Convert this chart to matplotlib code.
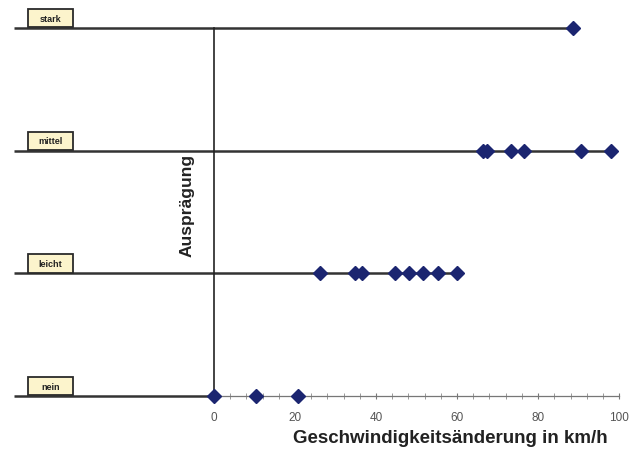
import matplotlib
matplotlib.use("Agg")
import matplotlib.pyplot as plt
from matplotlib.patches import Rectangle
from matplotlib.ticker import FixedLocator

plt.rcParams['font.family'] = ['Liberation Sans', 'DejaVu Sans']

# Auspraegung levels (y) and speed changes in km/h (x)
levels = ["nein", "leicht", "mittel", "stark"]
nein = [0, 10.5, 20.8]
leicht = [26.2, 34.8, 36.5, 44.7, 48.2, 51.7, 55.4, 60.1]
mittel = [66.3, 67.5, 73.2, 76.5, 90.7, 98.0]
stark = [88.6]
series = [nein, leicht, mittel, stark]

xticks = [0, 20, 40, 60, 80, 100]

line_col = '#333333'
mark_col = '#1b2570'

fig = plt.figure(figsize=(6.39, 4.52), dpi=100)
ax = fig.add_axes([0, 0, 1, 1])
ax.set_xlim(-52.8, 104.9)
ax.set_ylim(-0.448, 3.236)

x0 = -49.4
for i, (name, vals) in enumerate(zip(levels, series)):
    end = max(vals) if i > 0 else 0
    ax.plot([x0, end], [i, i], color=line_col, lw=1.8, zorder=2, solid_capstyle='butt')
    ax.plot(vals, [i] * len(vals), linestyle='none', marker='D', ms=7.5,
            color=mark_col, zorder=4)
    # label box sitting on the line
    ax.add_patch(Rectangle((-45.9, i + 0.005), 11.1, 0.15, facecolor='#fcf4cc',
                           edgecolor='#2a2a2a', lw=1.3, zorder=3))
    ax.text(-40.35, i + 0.08, name, ha='center', va='center', fontsize=6.5,
            fontweight='bold', color='#222222', zorder=5)

# axes
for s in ['top', 'right']:
    ax.spines[s].set_visible(False)
ax.spines['left'].set_position(('data', 0))
ax.spines['left'].set_bounds(0, 3)
ax.spines['left'].set_color('#222222')
ax.spines['left'].set_linewidth(1.2)
ax.spines['bottom'].set_position(('data', 0))
ax.spines['bottom'].set_bounds(0, 100)
ax.spines['bottom'].set_color('#777777')
ax.spines['bottom'].set_linewidth(0.9)

ax.set_yticks([])
ax.set_xticks(xticks)
ax.xaxis.set_minor_locator(FixedLocator([v for v in range(0, 101, 4)]))
ax.tick_params(axis='x', which='major', direction='inout', length=5, width=0.8,
               color='#777777', labelsize=8.5, labelcolor='#555555', pad=8)
ax.tick_params(axis='x', which='minor', direction='inout', length=4, width=0.7,
               color='#999999')

ax.text(58.3, -0.334, "Geschwindigkeitsänderung in km/h", ha='center', va='center',
        fontsize=13.5, fontweight='bold', color='#222222')
ax.text(-6.7, 1.565, "Ausprägung", ha='center', va='center', rotation=90,
        fontsize=12.5, fontweight='bold', color='#222222')

fig.savefig("out.png", dpi=100, facecolor='white')
